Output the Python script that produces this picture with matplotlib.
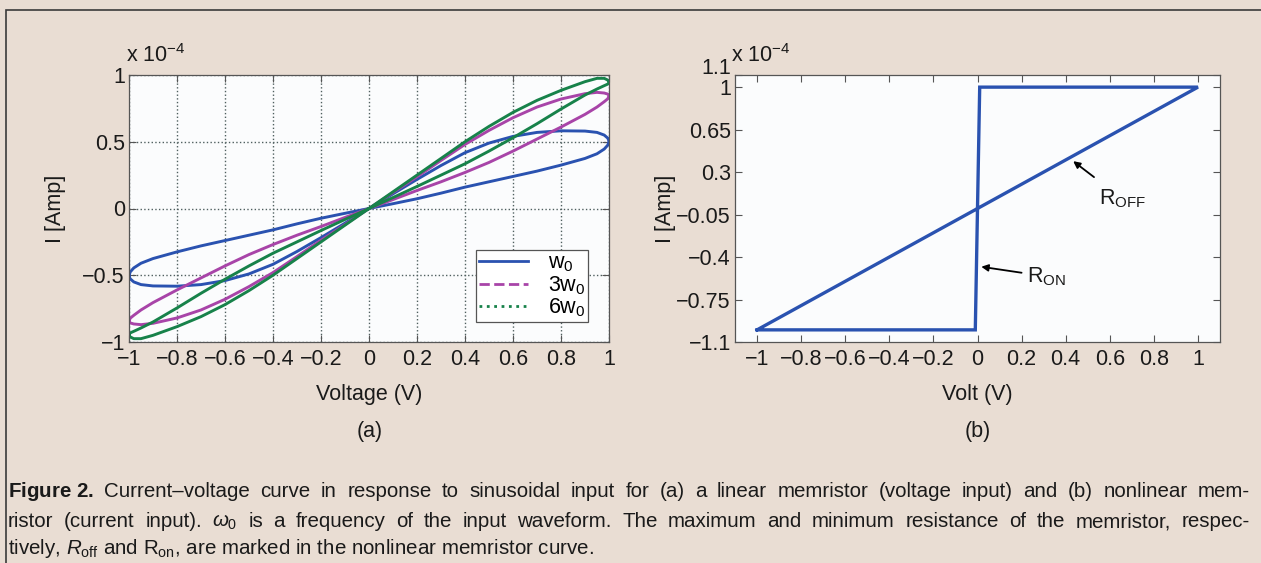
import matplotlib.pyplot as plt
from matplotlib.lines import Line2D
from matplotlib.patches import Rectangle

plt.rcParams['font.family'] = ['Liberation Sans', 'DejaVu Sans']
plt.rcParams['mathtext.fontset'] = 'custom'
plt.rcParams['mathtext.rm'] = 'Liberation Sans'
plt.rcParams['mathtext.it'] = 'Liberation Sans:italic'
plt.rcParams['mathtext.bf'] = 'Liberation Sans:bold'

# (a) linear memristor, current in units of 1e-4 A
volt_a = [-1, -0.995, -0.98, -0.95, -0.9, -0.8, -0.7, -0.6, -0.5, -0.4, -0.3, -0.2, -0.1,
          0, 0.1, 0.2, 0.3, 0.4, 0.5, 0.6, 0.7, 0.8, 0.9, 0.95, 0.98, 0.995, 1]

w0_upper = [-0.505, -0.475, -0.445, -0.41, -0.375, -0.325, -0.28, -0.24, -0.2, -0.16, -0.115, -0.073, -0.036,
            0, 0.11, 0.218, 0.322, 0.418, 0.49, 0.54, 0.57, 0.582, 0.58, 0.57, 0.55, 0.527, 0.505]
w0_lower = [-0.505, -0.527, -0.55, -0.57, -0.58, -0.582, -0.57, -0.54, -0.49, -0.418, -0.322, -0.218, -0.11,
            0, 0.036, 0.073, 0.115, 0.16, 0.2, 0.24, 0.28, 0.325, 0.375, 0.41, 0.445, 0.475, 0.505]

w3_upper = [-0.845, -0.822, -0.80, -0.76, -0.705, -0.61, -0.52, -0.43, -0.345, -0.27, -0.2, -0.135, -0.067,
            0, 0.12, 0.238, 0.36, 0.48, 0.585, 0.68, 0.76, 0.82, 0.86, 0.87, 0.865, 0.857, 0.845]
w3_lower = [-0.845, -0.857, -0.865, -0.87, -0.86, -0.82, -0.76, -0.68, -0.585, -0.48, -0.36, -0.238, -0.12,
            0, 0.067, 0.135, 0.2, 0.27, 0.345, 0.43, 0.52, 0.61, 0.705, 0.76, 0.80, 0.822, 0.845]

w6_upper = [-0.945, -0.932, -0.92, -0.895, -0.85, -0.745, -0.635, -0.53, -0.43, -0.335, -0.25, -0.165, -0.082,
            0, 0.125, 0.25, 0.375, 0.5, 0.615, 0.72, 0.81, 0.885, 0.95, 0.975, 0.975, 0.962, 0.945]
w6_lower = [-0.945, -0.962, -0.975, -0.975, -0.95, -0.885, -0.81, -0.72, -0.615, -0.5, -0.375, -0.25, -0.125,
            0, 0.082, 0.165, 0.25, 0.335, 0.43, 0.53, 0.635, 0.745, 0.85, 0.895, 0.92, 0.932, 0.945]

series_labels = ['w$_0$', '3w$_0$', '6w$_0$']
series_colors = ['#2a52b0', '#a844a8', '#17824a']

# (b) nonlinear memristor loop
volt_b = [-1, -0.01, 0.01, 1, -1]
amp_b = [-1, -1, 1, 1, -1]
yticks_b = [-1.1, -0.75, -0.4, -0.05, 0.3, 0.65, 1, 1.1]
yticklabels_b = ['\u22121.1', '\u22120.75', '\u22120.4', '\u22120.05', '0.3', '0.65', '1', '']
xticks = [-1, -0.8, -0.6, -0.4, -0.2, 0, 0.2, 0.4, 0.6, 0.8, 1]
xticklabels = ['\u22121', '\u22120.8', '\u22120.6', '\u22120.4', '\u22120.2', '0',
               '0.2', '0.4', '0.6', '0.8', '1']

W, H = 1261, 563
bg = '#e9ddd3'
fig = plt.figure(figsize=(W / 100, H / 100), dpi=100, facecolor=bg)

def px(x, y):
    return x / W, 1 - y / H

# frame around the figure
fig.patches.append(Rectangle((6 / W, -0.1), 1.1, 1 - 10 / H + 0.1, transform=fig.transFigure,
                             fill=False, edgecolor='#3a3a3a', linewidth=1.2))

fs = 15.5
ax1 = fig.add_axes([129 / W, 1 - 342 / H, 480 / W, 267 / H])
ax2 = fig.add_axes([735 / W, 1 - 342 / H, 485 / W, 267 / H])

for ax in (ax1, ax2):
    ax.set_facecolor('#fbfcfd')
    for s in ax.spines.values():
        s.set_color('#555555')
        s.set_linewidth(0.9)
    ax.tick_params(direction='in', length=5, width=0.8, color='#555555', labelsize=fs,
                   labelcolor='#1a1a1a', top=True, right=True, pad=5)
    ax.tick_params(axis='y', pad=3)

# panel (a)
ups = [w0_upper, w3_upper, w6_upper]
los = [w0_lower, w3_lower, w6_lower]
for up, lo, c in zip(ups, los, series_colors):
    ax1.plot(volt_a + volt_a[::-1], lo + up[::-1], color=c, linewidth=2.1, solid_joinstyle='round')
ax1.set_xlim(-1, 1)
ax1.set_ylim(-1, 1)
ax1.set_xticks(xticks)
ax1.set_xticklabels(xticklabels)
ax1.set_yticks([-1, -0.5, 0, 0.5, 1])
ax1.set_yticklabels(['\u22121', '\u22120.5', '0', '0.5', '1'])
ax1.grid(True, linestyle=':', color='#4f5f5f', linewidth=1.0)
ax1.set_xlabel('Voltage (V)', fontsize=fs, labelpad=10, color='#1a1a1a')
ax1.set_ylabel('I [Amp]', fontsize=fs, labelpad=12, color='#1a1a1a')

handles = [Line2D([], [], color=series_colors[0], linestyle='-', linewidth=2.0),
           Line2D([], [], color=series_colors[1], linestyle='--', linewidth=2.0),
           Line2D([], [], color=series_colors[2], linestyle=':', linewidth=2.0)]
leg = ax1.legend(handles, series_labels, loc='lower right', bbox_to_anchor=(0.956, 0.075),
                 borderaxespad=0, fontsize=fs, frameon=True, fancybox=False, framealpha=1,
                 edgecolor='#555555', handlelength=2.3, labelspacing=0.0, borderpad=0.12,
                 handletextpad=0.9)
leg.get_frame().set_linewidth(0.9)

# panel (b)
ax2.plot(volt_b, amp_b, color='#2a52b0', linewidth=2.4, solid_joinstyle='miter')
ax2.set_xlim(-1.1, 1.1)
ax2.set_ylim(-1.1, 1.1)
ax2.set_xticks(xticks)
ax2.set_xticklabels(xticklabels)
ax2.set_yticks(yticks_b)
ax2.set_yticklabels(yticklabels_b)
# the top label sits a little above its tick, as in the original
ax2.annotate('1.1', xy=(0, 1.1), xycoords=('axes fraction', 'data'), xytext=(-3, 4.5),
             textcoords='offset points', ha='right', va='center', fontsize=fs, color='#1a1a1a')
ax2.set_xlabel('Volt (V)', fontsize=fs, labelpad=10, color='#1a1a1a')
ax2.set_ylabel('I [Amp]', fontsize=fs, labelpad=0, color='#1a1a1a')

ax2.annotate('R$_{\\rm OFF}$', xy=(0.434, 0.39), xytext=(0.55, 0.08), fontsize=fs,
             ha='left', va='center', color='#1a1a1a',
             arrowprops=dict(arrowstyle='-|>', color='black', lw=1.3, mutation_scale=10,
                             shrinkA=9, shrinkB=0))
ax2.annotate('R$_{\\rm ON}$', xy=(0.017, -0.48), xytext=(0.225, -0.56), fontsize=fs,
             ha='left', va='center', color='#1a1a1a',
             arrowprops=dict(arrowstyle='-|>', color='black', lw=1.3, mutation_scale=10,
                             shrinkA=2, shrinkB=0))

# exponent labels
fig.text(*px(126, 56), 'x 10$^{\\mathregular{\u22124}}$', fontsize=fs, ha='left', va='center', color='#1a1a1a')
fig.text(*px(731, 56), 'x 10$^{\\mathregular{\u22124}}$', fontsize=fs, ha='left', va='center', color='#1a1a1a')

# panel letters
fig.text(*px(370, 432), '(a)', fontsize=fs, ha='center', va='center', color='#1a1a1a')
fig.text(*px(978, 432), '(b)', fontsize=fs, ha='center', va='center', color='#1a1a1a')

# caption, first two lines justified between x = 8 and x = 1250
cap_fs = 14.8
line1 = ['$\\mathbf{Figure\\ 2.}$'] + ('Current\u2013voltage curve in response to sinusoidal input '
                                      'for (a) a linear memristor (voltage input) and (b) nonlinear mem-').split(' ')
line2 = ('ristor (current input). $\\omega_0$ is a frequency of the input waveform. '
         'The maximum and minimum resistance of the memristor, respec-').split(' ')
renderer = fig.canvas.get_renderer()

def justify(words, y, x0=8, x1=1250):
    texts = [fig.text(0, 1 - y / H, w, fontsize=cap_fs, ha='left', va='baseline', color='#1a1a1a')
             for w in words]
    widths = [t.get_window_extent(renderer).width for t in texts]
    gap = (x1 - x0 - sum(widths)) / (len(words) - 1)
    x = x0
    for t, w in zip(texts, widths):
        t.set_x(x / W)
        x += w + gap

justify(line1, 497)
justify(line2, 527)
fig.text(*px(8, 554), 'tively, $R_{\\rm off}$ and R$_{\\rm on}$, are marked in the nonlinear memristor curve.',
         fontsize=cap_fs, ha='left', va='baseline', color='#1a1a1a')

plt.savefig('out.png', dpi=100, facecolor=bg)
